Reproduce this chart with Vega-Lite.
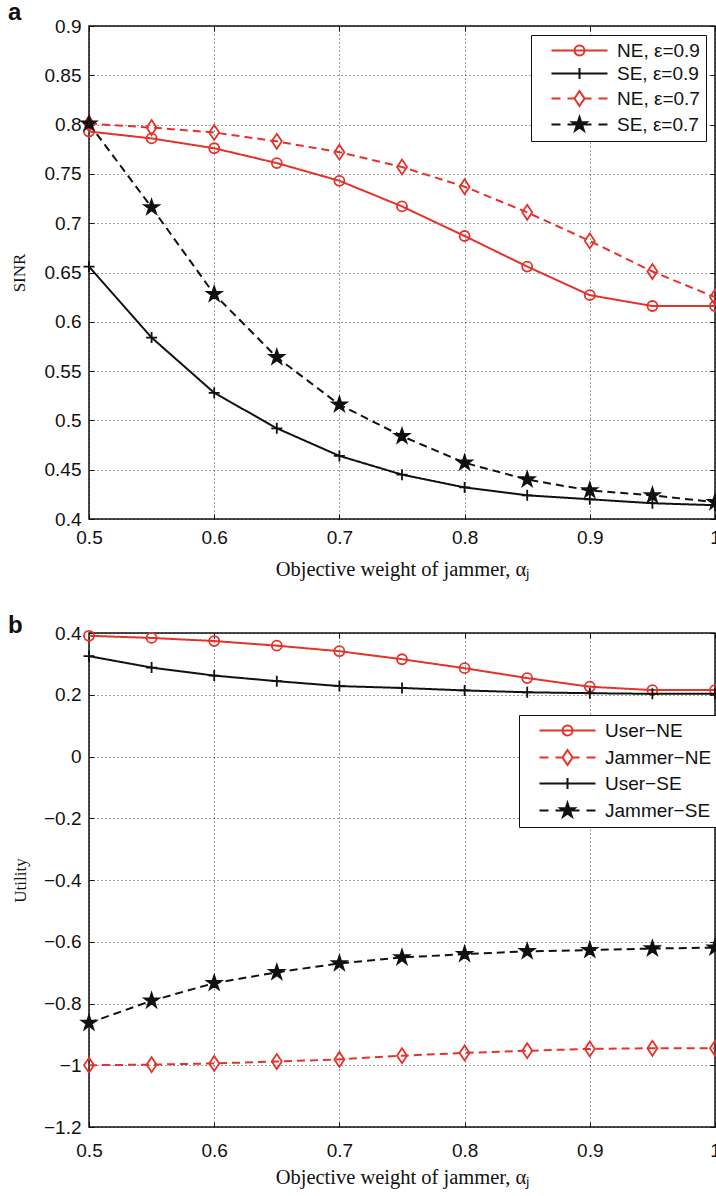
{
  "$schema": "https://vega.github.io/schema/vega-lite/v6.json",
  "padding": {"left": 7, "top": 0, "right": 0, "bottom": 0},
  "background": "white",
  "datasets": {
    "sinr": [
      {"a": 0.5, "v": 0.793, "s": "NE, ε=0.9"}, {"a": 0.55, "v": 0.786, "s": "NE, ε=0.9"}, {"a": 0.6, "v": 0.776, "s": "NE, ε=0.9"}, {"a": 0.65, "v": 0.761, "s": "NE, ε=0.9"}, {"a": 0.7, "v": 0.743, "s": "NE, ε=0.9"}, {"a": 0.75, "v": 0.717, "s": "NE, ε=0.9"}, {"a": 0.8, "v": 0.687, "s": "NE, ε=0.9"}, {"a": 0.85, "v": 0.656, "s": "NE, ε=0.9"}, {"a": 0.9, "v": 0.627, "s": "NE, ε=0.9"}, {"a": 0.95, "v": 0.616, "s": "NE, ε=0.9"}, {"a": 1.0, "v": 0.616, "s": "NE, ε=0.9"},
      {"a": 0.5, "v": 0.656, "s": "SE, ε=0.9"}, {"a": 0.55, "v": 0.584, "s": "SE, ε=0.9"}, {"a": 0.6, "v": 0.528, "s": "SE, ε=0.9"}, {"a": 0.65, "v": 0.492, "s": "SE, ε=0.9"}, {"a": 0.7, "v": 0.464, "s": "SE, ε=0.9"}, {"a": 0.75, "v": 0.445, "s": "SE, ε=0.9"}, {"a": 0.8, "v": 0.432, "s": "SE, ε=0.9"}, {"a": 0.85, "v": 0.424, "s": "SE, ε=0.9"}, {"a": 0.9, "v": 0.42, "s": "SE, ε=0.9"}, {"a": 0.95, "v": 0.416, "s": "SE, ε=0.9"}, {"a": 1.0, "v": 0.414, "s": "SE, ε=0.9"},
      {"a": 0.5, "v": 0.801, "s": "NE, ε=0.7"}, {"a": 0.55, "v": 0.797, "s": "NE, ε=0.7"}, {"a": 0.6, "v": 0.792, "s": "NE, ε=0.7"}, {"a": 0.65, "v": 0.783, "s": "NE, ε=0.7"}, {"a": 0.7, "v": 0.772, "s": "NE, ε=0.7"}, {"a": 0.75, "v": 0.757, "s": "NE, ε=0.7"}, {"a": 0.8, "v": 0.737, "s": "NE, ε=0.7"}, {"a": 0.85, "v": 0.711, "s": "NE, ε=0.7"}, {"a": 0.9, "v": 0.682, "s": "NE, ε=0.7"}, {"a": 0.95, "v": 0.651, "s": "NE, ε=0.7"}, {"a": 1.0, "v": 0.625, "s": "NE, ε=0.7"},
      {"a": 0.5, "v": 0.801, "s": "SE, ε=0.7"}, {"a": 0.55, "v": 0.716, "s": "SE, ε=0.7"}, {"a": 0.6, "v": 0.628, "s": "SE, ε=0.7"}, {"a": 0.65, "v": 0.564, "s": "SE, ε=0.7"}, {"a": 0.7, "v": 0.516, "s": "SE, ε=0.7"}, {"a": 0.75, "v": 0.484, "s": "SE, ε=0.7"}, {"a": 0.8, "v": 0.457, "s": "SE, ε=0.7"}, {"a": 0.85, "v": 0.44, "s": "SE, ε=0.7"}, {"a": 0.9, "v": 0.429, "s": "SE, ε=0.7"}, {"a": 0.95, "v": 0.424, "s": "SE, ε=0.7"}, {"a": 1.0, "v": 0.417, "s": "SE, ε=0.7"}
    ],
    "utility": [
      {"a": 0.5, "v": 0.391, "s": "User−NE"}, {"a": 0.55, "v": 0.384, "s": "User−NE"}, {"a": 0.6, "v": 0.374, "s": "User−NE"}, {"a": 0.65, "v": 0.359, "s": "User−NE"}, {"a": 0.7, "v": 0.341, "s": "User−NE"}, {"a": 0.75, "v": 0.315, "s": "User−NE"}, {"a": 0.8, "v": 0.286, "s": "User−NE"}, {"a": 0.85, "v": 0.254, "s": "User−NE"}, {"a": 0.9, "v": 0.226, "s": "User−NE"}, {"a": 0.95, "v": 0.215, "s": "User−NE"}, {"a": 1.0, "v": 0.215, "s": "User−NE"},
      {"a": 0.5, "v": -1.0, "s": "Jammer−NE"}, {"a": 0.55, "v": -0.998, "s": "Jammer−NE"}, {"a": 0.6, "v": -0.994, "s": "Jammer−NE"}, {"a": 0.65, "v": -0.988, "s": "Jammer−NE"}, {"a": 0.7, "v": -0.981, "s": "Jammer−NE"}, {"a": 0.75, "v": -0.969, "s": "Jammer−NE"}, {"a": 0.8, "v": -0.96, "s": "Jammer−NE"}, {"a": 0.85, "v": -0.953, "s": "Jammer−NE"}, {"a": 0.9, "v": -0.947, "s": "Jammer−NE"}, {"a": 0.95, "v": -0.945, "s": "Jammer−NE"}, {"a": 1.0, "v": -0.945, "s": "Jammer−NE"},
      {"a": 0.5, "v": 0.325, "s": "User−SE"}, {"a": 0.55, "v": 0.288, "s": "User−SE"}, {"a": 0.6, "v": 0.262, "s": "User−SE"}, {"a": 0.65, "v": 0.244, "s": "User−SE"}, {"a": 0.7, "v": 0.228, "s": "User−SE"}, {"a": 0.75, "v": 0.222, "s": "User−SE"}, {"a": 0.8, "v": 0.214, "s": "User−SE"}, {"a": 0.85, "v": 0.208, "s": "User−SE"}, {"a": 0.9, "v": 0.205, "s": "User−SE"}, {"a": 0.95, "v": 0.203, "s": "User−SE"}, {"a": 1.0, "v": 0.203, "s": "User−SE"},
      {"a": 0.5, "v": -0.863, "s": "Jammer−SE"}, {"a": 0.55, "v": -0.791, "s": "Jammer−SE"}, {"a": 0.6, "v": -0.734, "s": "Jammer−SE"}, {"a": 0.65, "v": -0.699, "s": "Jammer−SE"}, {"a": 0.7, "v": -0.67, "s": "Jammer−SE"}, {"a": 0.75, "v": -0.651, "s": "Jammer−SE"}, {"a": 0.8, "v": -0.64, "s": "Jammer−SE"}, {"a": 0.85, "v": -0.631, "s": "Jammer−SE"}, {"a": 0.9, "v": -0.627, "s": "Jammer−SE"}, {"a": 0.95, "v": -0.622, "s": "Jammer−SE"}, {"a": 1.0, "v": -0.619, "s": "Jammer−SE"}
    ]
  },
  "spacing": 32,
  "resolve": {
    "scale": {"x": "independent", "y": "independent", "color": "independent", "stroke": "independent", "strokeDash": "independent", "shape": "independent", "fill": "independent"},
    "legend": {"color": "independent", "shape": "independent", "stroke": "independent", "fill": "independent"}
  },
  "vconcat": [
    {
      "title": {"text": "a", "dx": -81, "offset": -8},
      "width": 626,
      "height": 493,
      "data": {"name": "sinr"},
      "resolve": {"scale": {"shape": "independent", "stroke": "independent", "fill": "independent"}},
      "layer": [
        {
          "mark": {"type": "line", "strokeWidth": 2},
          "encoding": {
            "x": {"field": "a", "type": "quantitative", "scale": {"domain": [0.5, 1], "nice": false, "zero": false},
              "axis": {"orient": "bottom", "values": [0.5, 0.6, 0.7, 0.8, 0.9, 1], "format": "~g", "labelFlush": false, "labelPadding": 14, "title": "Objective weight of jammer, αⱼ", "titlePadding": 12}},
            "y": {"field": "v", "type": "quantitative", "scale": {"domain": [0.4, 0.9], "nice": false, "zero": false},
              "axis": {"orient": "left", "values": [0.4, 0.45, 0.5, 0.55, 0.6, 0.65, 0.7, 0.75, 0.8, 0.85, 0.9], "format": "~g", "labelPadding": 13, "title": "SINR", "titleFontSize": 17, "titlePadding": 16}},
            "color": {"field": "s", "type": "nominal",
              "scale": {"domain": ["SE, ε=0.7", "NE, ε=0.7", "SE, ε=0.9", "NE, ε=0.9"], "range": ["#111111", "#e5322a", "#111111", "#e5322a"]}, "legend": null},
            "strokeDash": {"field": "s", "type": "nominal",
              "scale": {"domain": ["SE, ε=0.7", "NE, ε=0.7", "SE, ε=0.9", "NE, ε=0.9"], "range": [[8, 5], [8, 5], [1, 0], [1, 0]]}, "legend": null}
          }
        },
        {
          "mark": {"type": "point", "filled": false, "strokeWidth": 1.8, "size": 4, "opacity": 1},
          "encoding": {
            "x": {"field": "a", "type": "quantitative",
              "axis": {"orient": "top", "values": [0.5, 0.6, 0.7, 0.8, 0.9, 1], "labels": false, "title": null, "grid": false}},
            "y": {"field": "v", "type": "quantitative",
              "axis": {"orient": "right", "values": [0.4, 0.45, 0.5, 0.55, 0.6, 0.65, 0.7, 0.75, 0.8, 0.85, 0.9], "labels": false, "title": null, "grid": false}},
            "stroke": {"field": "s", "type": "nominal",
              "scale": {"domain": ["SE, ε=0.7", "NE, ε=0.7", "SE, ε=0.9", "NE, ε=0.9"], "range": ["#111111", "#e5322a", "#111111", "#e5322a"]}, "legend": null},
            "fill": {"field": "s", "type": "nominal",
              "scale": {"domain": ["SE, ε=0.7", "NE, ε=0.7", "SE, ε=0.9", "NE, ε=0.9"], "range": ["#111111", "transparent", "transparent", "transparent"]}, "legend": null},
            "shape": {"field": "s", "type": "nominal",
              "scale": {"domain": ["SE, ε=0.7", "NE, ε=0.7", "SE, ε=0.9", "NE, ε=0.9"], "range": ["M0,-7.5L1.7,-2.3L7.1,-2.3L2.7,0.9L4.4,6.1L0,2.9L-4.4,6.1L-2.7,0.9L-7.1,-2.3L-1.7,-2.3Z", "M0,-7.5L5,0L0,7.5L-5,0Z", "M-5.5,0L5.5,0M0,-5.5L0,5.5", "M5,0A5,5,0,1,1,-5,0A5,5,0,1,1,5,0Z"]}, "legend": null}
          }
        },
        {
          "transform": [{"filter": "false"}],
          "mark": {"type": "point", "filled": false, "strokeWidth": 2, "size": 4, "opacity": 1},
          "encoding": {
            "shape": {"field": "s", "type": "nominal",
              "scale": {"domain": ["NE, ε=0.9", "SE, ε=0.9", "NE, ε=0.7", "SE, ε=0.7"], "range": [
                "M5,0L61,0M38,0A5,5,0,1,1,28,0A5,5,0,1,1,38,0Z",
                "M5,0L61,0M33,-5.5L33,5.5",
                "M5,0L14,0M21,0L28,0M38,0L45,0M52,0L61,0M33,-7.5L38,0L33,7.5L28,0Z",
                "M5,0L14,0M21,0L28,0M38,0L45,0M52,0L61,0M33,-7.5L34.7,-2.3L40.1,-2.3L35.7,0.9L37.4,6.1L33,2.9L28.6,6.1L30.3,0.9L25.9,-2.3L31.3,-2.3Z"]},
              "legend": {"title": null, "orient": "top-right", "offset": 9, "symbolSize": 4, "symbolStrokeWidth": 2, "symbolOpacity": 1, "labelOffset": 61, "padding": 6, "rowPadding": 3}},
            "stroke": {"field": "s", "type": "nominal",
              "scale": {"domain": ["NE, ε=0.9", "SE, ε=0.9", "NE, ε=0.7", "SE, ε=0.7"], "range": ["#e5322a", "#111111", "#e5322a", "#111111"]}},
            "fill": {"field": "s", "type": "nominal",
              "scale": {"domain": ["NE, ε=0.9", "SE, ε=0.9", "NE, ε=0.7", "SE, ε=0.7"], "range": ["transparent", "transparent", "transparent", "#111111"]}}
          }
        }
      ]
    },
    {
      "title": {"text": "b", "dx": -81, "offset": -14},
      "width": 626,
      "height": 494,
      "data": {"name": "utility"},
      "resolve": {"scale": {"shape": "independent", "stroke": "independent", "fill": "independent"}},
      "layer": [
        {
          "mark": {"type": "line", "strokeWidth": 2},
          "encoding": {
            "x": {"field": "a", "type": "quantitative", "scale": {"domain": [0.5, 1], "nice": false, "zero": false},
              "axis": {"orient": "bottom", "values": [0.5, 0.6, 0.7, 0.8, 0.9, 1], "format": "~g", "labelFlush": false, "labelPadding": 19, "title": "Objective weight of jammer, αⱼ", "titlePadding": 7}},
            "y": {"field": "v", "type": "quantitative", "scale": {"domain": [-1.2, 0.4], "nice": false, "zero": false},
              "axis": {"orient": "left", "values": [-1.2, -1, -0.8, -0.6, -0.4, -0.2, 0, 0.2, 0.4], "format": "~g", "labelPadding": 13, "title": "Utility", "titleFontSize": 17, "titlePadding": 14}},
            "color": {"field": "s", "type": "nominal",
              "scale": {"domain": ["Jammer−SE", "User−SE", "Jammer−NE", "User−NE"], "range": ["#111111", "#111111", "#e5322a", "#e5322a"]}, "legend": null},
            "strokeDash": {"field": "s", "type": "nominal",
              "scale": {"domain": ["Jammer−SE", "User−SE", "Jammer−NE", "User−NE"], "range": [[8, 5], [1, 0], [8, 5], [1, 0]]}, "legend": null}
          }
        },
        {
          "mark": {"type": "point", "filled": false, "strokeWidth": 1.8, "size": 4, "opacity": 1},
          "encoding": {
            "x": {"field": "a", "type": "quantitative",
              "axis": {"orient": "top", "values": [0.5, 0.6, 0.7, 0.8, 0.9, 1], "labels": false, "title": null, "grid": false}},
            "y": {"field": "v", "type": "quantitative",
              "axis": {"orient": "right", "values": [-1.2, -1, -0.8, -0.6, -0.4, -0.2, 0, 0.2, 0.4], "labels": false, "title": null, "grid": false}},
            "stroke": {"field": "s", "type": "nominal",
              "scale": {"domain": ["Jammer−SE", "User−SE", "Jammer−NE", "User−NE"], "range": ["#111111", "#111111", "#e5322a", "#e5322a"]}, "legend": null},
            "fill": {"field": "s", "type": "nominal",
              "scale": {"domain": ["Jammer−SE", "User−SE", "Jammer−NE", "User−NE"], "range": ["#111111", "transparent", "transparent", "transparent"]}, "legend": null},
            "shape": {"field": "s", "type": "nominal",
              "scale": {"domain": ["Jammer−SE", "User−SE", "Jammer−NE", "User−NE"], "range": ["M0,-7.5L1.7,-2.3L7.1,-2.3L2.7,0.9L4.4,6.1L0,2.9L-4.4,6.1L-2.7,0.9L-7.1,-2.3L-1.7,-2.3Z", "M-5.5,0L5.5,0M0,-5.5L0,5.5", "M0,-7.5L5,0L0,7.5L-5,0Z", "M5,0A5,5,0,1,1,-5,0A5,5,0,1,1,5,0Z"]}, "legend": null}
          }
        },
        {
          "transform": [{"filter": "false"}],
          "mark": {"type": "point", "filled": false, "strokeWidth": 2, "size": 4, "opacity": 1},
          "encoding": {
            "shape": {"field": "s", "type": "nominal",
              "scale": {"domain": ["User−NE", "Jammer−NE", "User−SE", "Jammer−SE"], "range": [
                "M5,0L61,0M38,0A5,5,0,1,1,28,0A5,5,0,1,1,38,0Z",
                "M5,0L14,0M21,0L28,0M38,0L45,0M52,0L61,0M33,-7.5L38,0L33,7.5L28,0Z",
                "M5,0L61,0M33,-5.5L33,5.5",
                "M5,0L14,0M21,0L28,0M38,0L45,0M52,0L61,0M33,-7.5L34.7,-2.3L40.1,-2.3L35.7,0.9L37.4,6.1L33,2.9L28.6,6.1L30.3,0.9L25.9,-2.3L31.3,-2.3Z"]},
              "legend": {"title": null, "orient": "none", "legendX": 430, "legendY": 82, "symbolSize": 4, "symbolStrokeWidth": 2, "symbolOpacity": 1, "labelOffset": 61, "padding": 6, "rowPadding": 5}},
            "stroke": {"field": "s", "type": "nominal",
              "scale": {"domain": ["User−NE", "Jammer−NE", "User−SE", "Jammer−SE"], "range": ["#e5322a", "#e5322a", "#111111", "#111111"]}},
            "fill": {"field": "s", "type": "nominal",
              "scale": {"domain": ["User−NE", "Jammer−NE", "User−SE", "Jammer−SE"], "range": ["transparent", "transparent", "transparent", "#111111"]}}
          }
        }
      ]
    }
  ],
  "config": {
    "view": {"stroke": "#111111", "strokeWidth": 1.5},
    "title": {"font": "Liberation Sans", "fontSize": 24, "fontWeight": "bold", "anchor": "start", "frame": "group", "color": "#111111", "baseline": "alphabetic", "align": "left"},
    "axis": {
      "labelFont": "Liberation Sans", "labelFontSize": 19, "labelColor": "#111111",
      "titleFont": "Liberation Serif", "titleFontSize": 20.5, "titleFontWeight": "normal", "titleColor": "#111111",
      "domain": false, "tickColor": "#111111", "tickSize": -5, "tickWidth": 1,
      "gridColor": "#000000", "gridOpacity": 0.75, "gridDash": [1, 3], "gridWidth": 1
    },
    "legend": {"labelFont": "Liberation Sans", "labelFontSize": 19, "labelColor": "#111111", "strokeColor": "#111111", "fillColor": "#ffffff", "cornerRadius": 0}
  }
}
